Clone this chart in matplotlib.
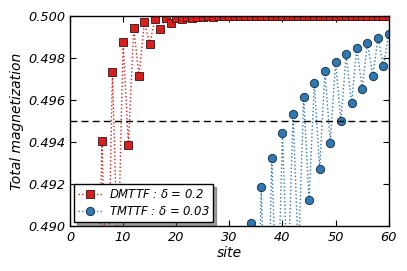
import matplotlib

matplotlib.use("Agg")
import matplotlib.pyplot as plt
import numpy as np

# ---------------------------------------------------------------------------
# Data (off-axis values are estimates)
# ---------------------------------------------------------------------------
sites = np.arange(1, 61)

dmttf = [
    0.4700, 0.4780, 0.4740, 0.4830, 0.4800, 0.49406, 0.4850, 0.49735, 0.4880, 0.49878,
    0.49387, 0.49944, 0.49715, 0.49973, 0.49868, 0.49986, 0.49938, 0.49992, 0.49970, 0.49992,
    0.49986, 0.49996, 0.49992, 0.49998, 0.49997, 0.49999, 0.49998, 0.50000, 0.49999, 0.50000,
    0.50000, 0.50000, 0.50000, 0.50000, 0.50000, 0.50000, 0.50000, 0.50000, 0.50000, 0.50000,
    0.50000, 0.50000, 0.50000, 0.50000, 0.50000, 0.50000, 0.50000, 0.50000, 0.50000, 0.50000,
    0.50000, 0.50000, 0.50000, 0.50000, 0.50000, 0.50000, 0.50000, 0.50000, 0.50000, 0.50000,
]

tmttf = [
    0.4500, 0.4520, 0.4540, 0.4560, 0.4580, 0.4600, 0.4620, 0.4640, 0.4660, 0.4680,
    0.4600, 0.4700, 0.4620, 0.4720, 0.4640, 0.4740, 0.4660, 0.4760, 0.4680, 0.4780,
    0.4700, 0.4800, 0.4720, 0.4820, 0.4740, 0.4840, 0.4760, 0.4860, 0.4780, 0.4870,
    0.4790, 0.4885, 0.4800, 0.49014, 0.4810, 0.49185, 0.4830, 0.49326, 0.4850, 0.49442,
    0.4870, 0.49537, 0.4885, 0.49616, 0.49125, 0.49683, 0.49272, 0.49737, 0.49398, 0.49781,
    0.49501, 0.49819, 0.49585, 0.49849, 0.49656, 0.49875, 0.49715, 0.49897, 0.49762, 0.49914,
]

labels = [r"DMTTF : $\delta$ = 0.2", r"TMTTF : $\delta$ = 0.03"]
threshold = 0.495

# ---------------------------------------------------------------------------
# Style
# ---------------------------------------------------------------------------
plt.rcParams["font.family"] = ["DejaVu Sans"]
plt.rcParams["font.style"] = "italic"
plt.rcParams["mathtext.default"] = "it"
plt.rcParams["xtick.direction"] = "in"
plt.rcParams["ytick.direction"] = "in"
plt.rcParams["xtick.top"] = True
plt.rcParams["ytick.right"] = True

red = "#d91e1e"
blue = "#2f78b4"

fig, ax = plt.subplots(figsize=(4.07, 2.71), dpi=100)

ax.plot(sites, dmttf, ":", color=red, lw=1.0, marker="s", ms=6,
        mfc=red, mec="#3a1010", mew=0.6, label=labels[0])
ax.plot(sites, tmttf, ":", color=blue, lw=1.0, marker="o", ms=6,
        mfc=blue, mec="#10283a", mew=0.6, label=labels[1])
ax.axhline(threshold, color="black", ls="--", lw=1.0, dashes=(5, 3))

ax.set_xlim(0, 60)
ax.set_ylim(0.490, 0.500)
ax.set_xticks(np.arange(0, 61, 10))
yticks = np.arange(0.490, 0.5001, 0.002)
ax.set_yticks(yticks)
ax.set_yticklabels([f"{v:.3f}" for v in yticks])
ax.tick_params(labelsize=9.3, length=4, width=0.8)
ax.set_xlabel("site", fontsize=10, labelpad=1)
ax.set_ylabel("Total magnetization", fontsize=10, labelpad=3)
for sp in ax.spines.values():
    sp.set_linewidth(1.0)

leg = ax.legend(loc="lower left", fontsize=8.4, fancybox=False, shadow=True,
                edgecolor="black", framealpha=1, borderaxespad=0.35,
                handlelength=2.0, handletextpad=0.6, borderpad=0.35,
                labelspacing=0.35)
leg.get_frame().set_linewidth(1.0)

fig.subplots_adjust(left=0.172, right=0.955, top=0.94, bottom=0.165)
fig.savefig("out.png", dpi=100)
plt.close(fig)
